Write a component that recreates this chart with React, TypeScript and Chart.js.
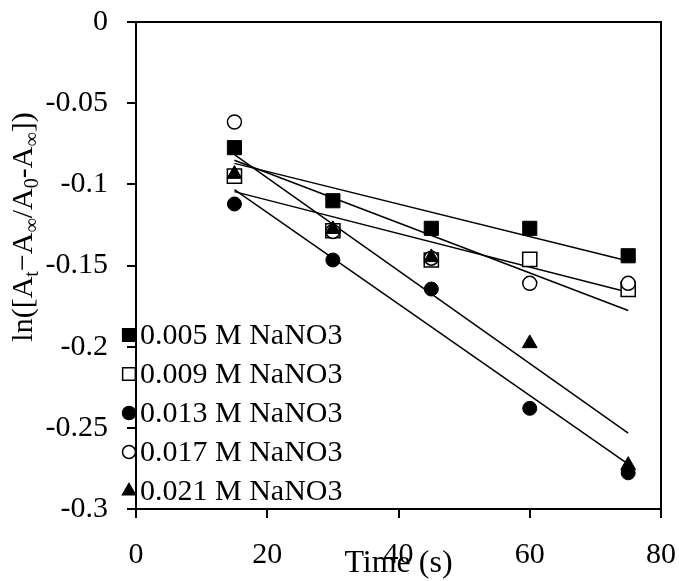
import React, { useEffect, useRef } from 'react';
import { Chart, registerables } from 'chart.js';
import { drawPoint } from 'chart.js/helpers';

Chart.register(...registerables);

// ---- data ----
const timeS = [15, 30, 45, 60, 75];
const seriesLabels = ['0.005 M NaNO3', '0.009 M NaNO3', '0.013 M NaNO3', '0.017 M NaNO3', '0.021 M NaNO3'];
const s005 = [-0.0774, -0.1101, -0.1271, -0.1271, -0.144];
const s009 = [-0.0949, -0.1286, -0.1466, -0.1462, -0.1647];
const s013 = [-0.1121, -0.1466, -0.1645, -0.238, -0.2777];
const s017 = [-0.0616, -0.129, -0.1455, -0.161, -0.161];
const s021 = [-0.0937, -0.1277, -0.145, -0.198, -0.273];
const trendX = [15, 75];
const trendStart = [-0.0871, -0.1045, -0.1033, -0.0852, -0.0817];
const trendEnd = [-0.1472, -0.1665, -0.2723, -0.1777, -0.2533];
const xTickValues = [0, 20, 40, 60, 80];
const xTickLabels = ['0', '20', '40', '60', '80'];
const yTickValues = [0, -0.05, -0.1, -0.15, -0.2, -0.25, -0.3];
const yTickLabels = ['0', '-0.05', '-0.1', '-0.15', '-0.2', '-0.25', '-0.3'];
const xTitle = 'Time (s)';

const seriesValues = [s005, s009, s013, s017, s021];
const pointStyles = ['rect', 'rect', 'circle', 'circle', 'triangle'];
const fills = ['#000', '#fff', '#000', '#fff', '#000'];
const radii = [10, 10, 7, 7, 8.5];
const legendRadii = [9, 9, 6.5, 6.5, 7.5];

const FONT = '"Liberation Serif", "Times New Roman", serif';

function nearestLabel(v: number, values: number[], labels: string[]) {
  let best = 0;
  for (let i = 1; i < values.length; i++) {
    if (Math.abs(values[i] - v) < Math.abs(values[best] - v)) best = i;
  }
  return Math.abs(values[best] - v) < 1e-6 ? labels[best] : '';
}

const decorPlugin = {
  id: 'decor',
  afterDraw(chart: any) {
    const { ctx, chartArea: a } = chart;
    ctx.save();
    // plot box
    ctx.strokeStyle = '#000';
    ctx.lineWidth = 2;
    ctx.strokeRect(a.left, a.top, a.right - a.left, a.bottom - a.top);

    // legend
    const lx = 129;
    const ly0 = 335;
    const lstep = 39;
    for (let i = 0; i < seriesLabels.length; i++) {
      const y = ly0 + i * lstep;
      ctx.fillStyle = fills[i];
      ctx.strokeStyle = '#000';
      ctx.lineWidth = 1.5;
      drawPoint(ctx, { pointStyle: pointStyles[i], radius: legendRadii[i], rotation: 0, borderWidth: 1.5 } as any, lx, y);
      ctx.fillStyle = '#000';
      ctx.font = `30px ${FONT}`;
      ctx.textAlign = 'left';
      ctx.textBaseline = 'middle';
      ctx.fillText(seriesLabels[i], 140, y + 1);
    }

    // x title
    ctx.fillStyle = '#000';
    ctx.font = `32px ${FONT}`;
    ctx.textAlign = 'center';
    ctx.textBaseline = 'middle';
    ctx.fillText(xTitle, (a.left + a.right) / 2, 564);

    // y title with subscripts
    const pieces: [string, boolean][] = [
      ['ln([A', false], ['t', true], ['\u2212A', false], ['\u221E', true],
      ['/A', false], ['0', true], ['-A', false], ['\u221E', true], ['])', false],
    ];
    const mainF = `30px ${FONT}`;
    const subF = `20px ${FONT}`;
    let total = 0;
    const widths: number[] = [];
    for (const [t, sub] of pieces) {
      ctx.font = sub ? subF : mainF;
      const w = ctx.measureText(t).width;
      widths.push(w);
      total += w;
    }
    ctx.translate(32, 227);
    ctx.rotate(-Math.PI / 2);
    ctx.textAlign = 'left';
    ctx.textBaseline = 'alphabetic';
    let x = -total / 2;
    pieces.forEach(([t, sub], i) => {
      ctx.font = sub ? subF : mainF;
      ctx.fillText(t, x, sub ? 6 : 0);
      x += widths[i];
    });
    ctx.restore();
  },
};

export default function App() {
  const ref = useRef<HTMLCanvasElement | null>(null);
  useEffect(() => {
    if (!ref.current) return;
    const markerSets = seriesValues.map((vals, i) => ({
      type: 'scatter' as const,
      label: seriesLabels[i],
      data: timeS.map((t, j) => ({ x: t, y: vals[j] })),
      pointStyle: pointStyles[i],
      pointRadius: radii[i],
      pointHoverRadius: radii[i],
      pointBackgroundColor: fills[i],
      pointBorderColor: '#000',
      pointBorderWidth: fills[i] === '#fff' ? 1.5 : 1,
      showLine: false,
      order: 5 - i,
    }));
    const trendSets = trendStart.map((s, i) => ({
      type: 'scatter' as const,
      label: 'trend ' + seriesLabels[i],
      data: [
        { x: trendX[0], y: s },
        { x: trendX[1], y: trendEnd[i] },
      ],
      showLine: true,
      borderColor: '#000',
      borderWidth: 1.5,
      pointRadius: 0,
      pointHoverRadius: 0,
      fill: false,
      order: 10,
    }));
    const chart = new Chart(ref.current, {
      type: 'scatter',
      data: { datasets: [...trendSets, ...markerSets] as any },
      options: {
        animation: false,
        responsive: false,
        devicePixelRatio: 1,
        layout: { padding: { left: 0, top: 22, right: 18, bottom: 0 } },
        plugins: { legend: { display: false }, tooltip: { enabled: false } },
        scales: {
          x: {
            type: 'linear',
            min: 0,
            max: 80,
            afterFit: (s: any) => { s.height = 72; s.paddingLeft = 0; s.paddingRight = 0; },
            afterBuildTicks: (s: any) => { s.ticks = xTickValues.map((v) => ({ value: v })); },
            ticks: {
              color: '#000',
              font: { family: FONT, size: 30 },
              padding: 19,
              maxRotation: 0,
              callback: (v: any) => nearestLabel(Number(v), xTickValues, xTickLabels),
            },
            grid: { display: true, drawOnChartArea: false, drawTicks: true, tickLength: 9, color: '#000', lineWidth: 2 },
            border: { display: true, color: '#000', width: 2 },
          },
          y: {
            type: 'linear',
            min: -0.3,
            max: 0,
            afterFit: (s: any) => { s.width = 136; s.paddingTop = 0; s.paddingBottom = 0; },
            afterBuildTicks: (s: any) => { s.ticks = yTickValues.map((v) => ({ value: v })); },
            ticks: {
              color: '#000',
              font: { family: FONT, size: 30 },
              padding: 19,
              callback: (v: any) => nearestLabel(Number(v), yTickValues, yTickLabels),
            },
            grid: { display: true, drawOnChartArea: false, drawTicks: true, tickLength: 9, color: '#000', lineWidth: 2 },
            border: { display: true, color: '#000', width: 2 },
          },
        },
      },
      plugins: [decorPlugin],
    });
    return () => chart.destroy();
  }, []);
  return (
    <div style={{ position: 'fixed', left: 0, top: 0, width: 679, height: 581, background: '#fff' }}>
      <canvas ref={ref} width={679} height={581} style={{ display: 'block' }} />
    </div>
  );
}
